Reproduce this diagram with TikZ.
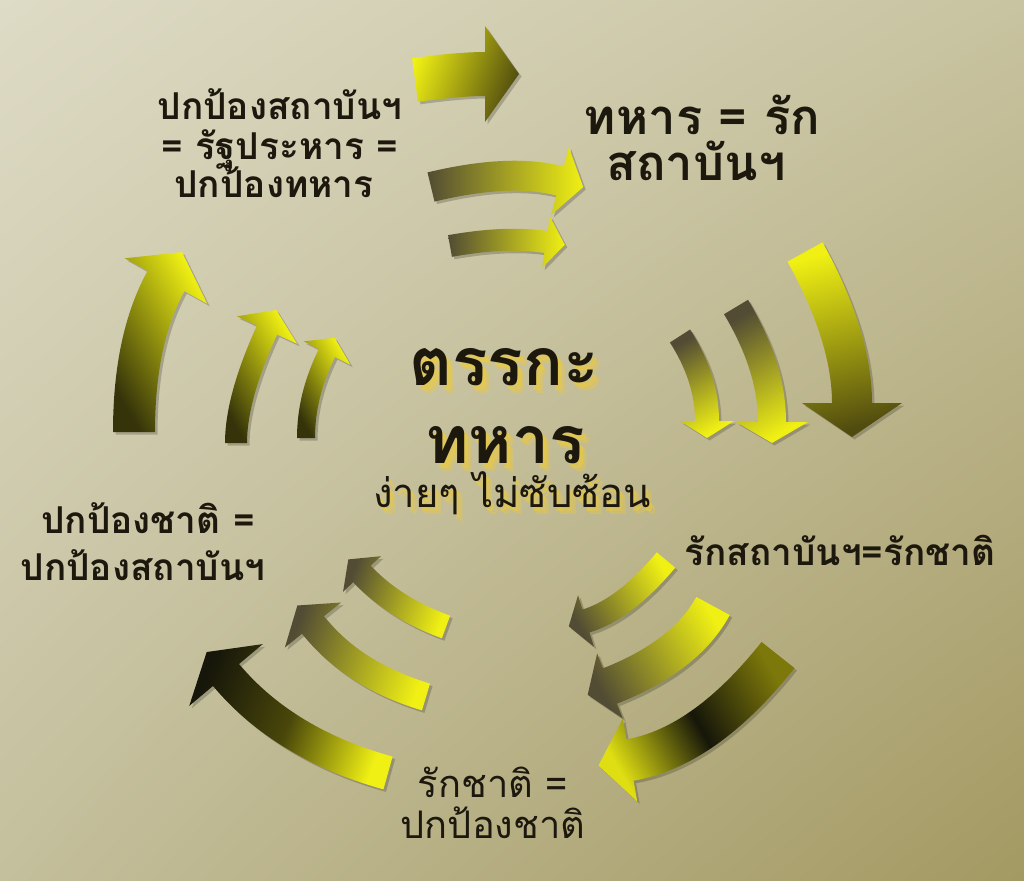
\documentclass[tikz,border=0pt]{standalone}
\usepackage{fontspec}
\newfontfamily\thai[Script=Thai]{Loma}
\usetikzlibrary{calc,shadings}
\definecolor{ylw}{RGB}{240,240,20}
\definecolor{olv}{RGB}{125,120,10}
\definecolor{dolv}{RGB}{80,75,15}
\definecolor{gbr}{RGB}{82,76,52}
\definecolor{blk}{RGB}{22,22,10}
\definecolor{glowc}{RGB}{245,205,40}
\definecolor{ink}{RGB}{28,24,14}
\definecolor{bgUL}{RGB}{222,219,198}
\definecolor{bgUR}{RGB}{200,195,160}
\definecolor{bgLL}{RGB}{196,191,156}
\definecolor{bgLR}{RGB}{163,153,98}

\newcommand\carrow[2]{\tikzset{cur/.style={#1}}\expandafter\carrowi#2\relax}
\def\carrowi#1,#2,#3,#4,#5,#6,#7,#8,#9\relax{%
 \pgfmathsetmacro\dxa{#3-#1}%
 \pgfmathsetmacro\dya{#4-#2}%
 \pgfmathsetmacro\la{veclen(\dxa,\dya)}%
 \pgfmathsetmacro\nxa{-(\dya)/\la}%
 \pgfmathsetmacro\nya{(\dxa)/\la}%
 \pgfmathsetmacro\dxb{#5-#3}%
 \pgfmathsetmacro\dyb{#6-#4}%
 \pgfmathsetmacro\lb{veclen(\dxb,\dyb)}%
 \pgfmathsetmacro\ux{(\dxb)/\lb}%
 \pgfmathsetmacro\uy{(\dyb)/\lb}%
 \pgfmathsetmacro\nxb{-(\uy)}%
 \pgfmathsetmacro\nyb{\ux}%
 \pgfmathsetmacro\den{1+(\nxa)*(\nxb)+(\nya)*(\nyb)}%
 \pgfmathsetmacro\mx{((\nxa)+(\nxb))/\den}%
 \pgfmathsetmacro\my{((\nya)+(\nyb))/\den}%
 \coordinate (L0) at ({#1+#7*(\nxa)},{#2+#7*(\nya)});
 \coordinate (LQ) at ({#3+#7*(\mx)},{#4+#7*(\my)});
 \coordinate (L2) at ({#5+#7*(\nxb)},{#6+#7*(\nyb)});
 \coordinate (R0) at ({#1-#7*(\nxa)},{#2-#7*(\nya)});
 \coordinate (RQ) at ({#3-#7*(\mx)},{#4-#7*(\my)});
 \coordinate (R2) at ({#5-#7*(\nxb)},{#6-#7*(\nyb)});
 \coordinate (H1) at ({#5+#8*(\nxb)},{#6+#8*(\nyb)});
 \coordinate (H2) at ({#5-#8*(\nxb)},{#6-#8*(\nyb)});
 \coordinate (TP) at ({#5+#9*(\ux)},{#6+#9*(\uy)});
 \def\apath{(L0) .. controls ($(L0)!2/3!(LQ)$) and ($(L2)!2/3!(LQ)$) .. (L2) -- (H1) -- (TP) -- (H2) -- (R2) .. controls ($(R2)!2/3!(RQ)$) and ($(R0)!2/3!(RQ)$) .. (R0) -- cycle}%
 \fill[black,opacity=.2,transform canvas={shift={(2.5pt,-2.5pt)}}] \apath;
 \shade[cur] \apath;
}

\tikzset{
  txt/.style={anchor=base, inner sep=0pt, text=ink},
  glw/.style={anchor=base, inner sep=0pt, text=glowc},
  g2/.style n args={3}{top color=#1, bottom color=#2, shading angle=#3},
  g3/.style n args={4}{top color=#1, bottom color=#3, middle color=#2, shading angle=#4},
  bigf/.style={font=\thai\bfseries\fontsize{66}{70}\selectfont},
  subf/.style={font=\thai\fontsize{40}{44}\selectfont},
  midf/.style={font=\thai\bfseries\fontsize{37}{40}\selectfont},
  topf/.style={font=\thai\bfseries\fontsize{49}{52}\selectfont},
  regf/.style={font=\thai\fontsize{38}{42}\selectfont},
}

\begin{document}
\begin{tikzpicture}[x=1pt,y=-1pt]
\useasboundingbox (0,0) rectangle (1024,880);
\shade[upper left=bgUL, upper right=bgUR, lower left=bgLL, lower right=bgLR] (0,0) rectangle (1024,880);

% top group (to the right)
\carrow{g2={ylw}{dolv}{70}}{415,80,459,74,485,74,22,48,34}
\carrow{g2={gbr}{ylw}{90}}{431,187,510,168,560,181,15,35,24}
\carrow{g2={gbr}{ylw}{90}}{450,246,506,236,546,242,11,26,19}
% right group (downwards)
\carrow{g2={ylw}{dolv}{15}}{805,252,852,337,852,403,20,50,34}
\carrow{g2={gbr}{ylw}{30}}{736,307,772,367,772,422,14,36,21}
\carrow{g2={gbr}{ylw}{30}}{680,336,707,378,707,421,12,27,17}
% lower right group (to the lower left)
\carrow{g2={ylw}{gbr}{-60}}{666,560,625,609,586,621,12,27,18}
\carrow{g2={ylw}{gbr}{-60}}{713,606,686,656,610,686,19,35,24}
\carrow{g3={olv}{blk}{ylw!85!olv}{-60}}{778,655,705,747,630,760,21,42,32}
% lower left group (to the upper left)
\carrow{g2={gbr}{ylw}{70}}{446,627,394,608,362,574,12,26,20}
\carrow{g2={gbr}{ylw}{70}}{426,697,353,675,313,625,14,36,25}
\carrow{g3={blk}{blk!50!olv}{ylw}{70}}{388,773,284,744,226,675,17,48,30}
% left group (upwards)
\carrow{g2={blk!70!olv}{ylw}{120}}{134,432,134,339,166,281,21,47,33}
\carrow{g2={blk!70!olv}{ylw}{120}}{236,443,236,398,267,330,11,33,22}
\carrow{g2={blk!70!olv}{ylw}{120}}{306,438,306,395,327,353,9,26,17}

% centre title glow (soft yellow copies behind the text)
\node[glw,bigf,opacity=.30] (c1ga) at (511,393) {ตรรกะ};
\node[glw,bigf,opacity=.45] (c1gb) at (508,390) {ตรรกะ};
\node[glw,bigf,opacity=.30] (c2ga) at (512,471) {ทหาร};
\node[glw,bigf,opacity=.45] (c2gb) at (509,468) {ทหาร};
\node[glw,subf,opacity=.30] (c3ga) at (518,514) {ง่ายๆ ไม่ซับซ้อน};
\node[glw,subf,opacity=.45] (c3gb) at (515,511) {ง่ายๆ ไม่ซับซ้อน};

% texts
\node[txt,midf] (tl1) at (280,120) {ปกป้องสถาบันฯ};
\node[txt,midf] (tl2) at (280,159) {= รัฐประหาร =};
\node[txt,midf] (tl3) at (274,197) {ปกป้องทหาร};

\node[txt,topf] (tr1) at (702,135) {ทหาร = รัก};
\node[txt,topf] (tr2) at (696,180) {สถาบันฯ};

\node[txt,bigf] (c1) at (504,385) {ตรรกะ};
\node[txt,bigf] (c2) at (505,463) {ทหาร};
\node[txt,subf] (c3) at (512,507) {ง่ายๆ ไม่ซับซ้อน};

\node[txt,midf] (l1) at (148,533) {ปกป้องชาติ =};
\node[txt,midf] (l2) at (143,580) {ปกป้องสถาบันฯ};

\node[txt,font=\thai\bfseries\fontsize{37}{40}\selectfont] (r1) at (840,565) {รักสถาบันฯ=รักชาติ};

\node[txt,regf] (b1) at (493,797) {รักชาติ =};
\node[txt,regf] (b2) at (493,838) {ปกป้องชาติ};
\end{tikzpicture}
\end{document}
